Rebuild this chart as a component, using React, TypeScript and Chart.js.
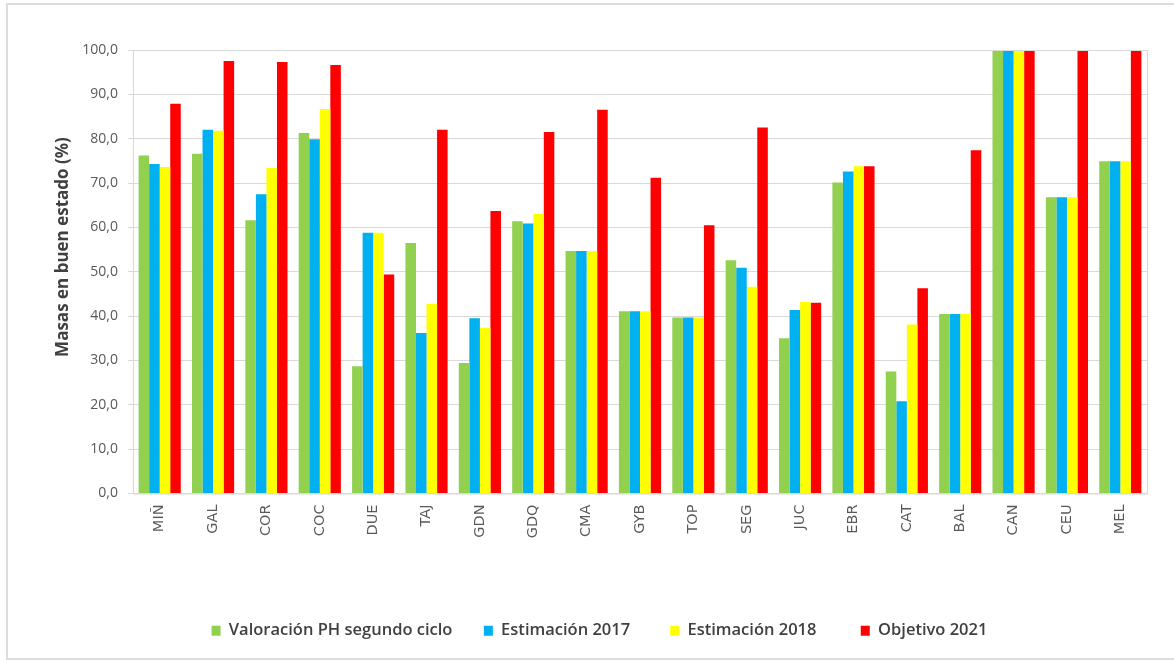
import React, { useEffect, useRef } from "react";
import { Chart, registerables } from "chart.js";

Chart.register(...registerables);

const categories = ["MIÑ", "GAL", "COR", "COC", "DUE", "TAJ", "GDN", "GDQ", "CMA", "GYB", "TOP", "SEG", "JUC", "EBR", "CAT", "BAL", "CAN", "CEU", "MEL"];
const valoracionPH = [76.2, 76.6, 61.6, 81.3, 28.7, 56.5, 29.4, 61.4, 54.7, 41.1, 39.7, 52.6, 35.0, 70.1, 27.5, 40.5, 100, 66.8, 74.9];
const estimacion2017 = [74.3, 82.0, 67.5, 79.9, 58.8, 36.2, 39.5, 60.9, 54.7, 41.1, 39.7, 50.9, 41.4, 72.6, 20.8, 40.5, 100, 66.8, 74.9];
const estimacion2018 = [73.6, 81.8, 73.4, 86.7, 58.8, 42.8, 37.4, 63.0, 54.7, 41.1, 39.7, 46.6, 43.2, 73.8, 38.1, 40.5, 100, 66.8, 74.9];
const objetivo2021 = [87.9, 97.5, 97.3, 96.6, 49.4, 82.0, 63.7, 81.5, 86.5, 71.2, 60.5, 82.5, 43.0, 73.8, 46.3, 77.4, 100, 100, 100];
const seriesLabels = ["Valoración PH segundo ciclo", "Estimación 2017", "Estimación 2018", "Objetivo 2021"];
const seriesColors = ["#92D050", "#00B0F0", "#FFFF00", "#FF0000"];
const legendGaps = ["     ", "       ", "        ", ""];
const yTitle = "Masas en buen estado (%)";

const plotFrame = {
  id: "plotFrame",
  afterLayout(chart: any) {
    if (chart.legend) {
      chart.legend.left += 22;
      chart.legend.right += 22;
    }
  },
  afterDatasetsDraw(chart: any) {
    const { ctx, chartArea } = chart;
    ctx.save();
    ctx.strokeStyle = "#D9D9D9";
    ctx.lineWidth = 1;
    ctx.strokeRect(chartArea.left + 0.5, chartArea.top + 0.5, chartArea.right - chartArea.left, chartArea.bottom - chartArea.top);
    // y-axis title
    ctx.translate(63, 247);
    ctx.rotate(-Math.PI / 2);
    ctx.fillStyle = "#404040";
    ctx.font = "bold 17px 'Open Sans'";
    ctx.textAlign = "center";
    ctx.textBaseline = "middle";
    ctx.fillText(yTitle, 0, 0);
    ctx.restore();
  },
};

export default function App() {
  const ref = useRef<HTMLCanvasElement>(null);
  useEffect(() => {
    const all = [valoracionPH, estimacion2017, estimacion2018, objetivo2021];
    const chart = new Chart(ref.current!, {
      type: "bar",
      data: {
        labels: categories,
        datasets: all.map((d, i) => ({
          label: seriesLabels[i],
          data: d,
          backgroundColor: seriesColors[i],
          borderWidth: 0,
          categoryPercentage: 0.79,
          barPercentage: 1.0,
        })),
      },
      options: {
        responsive: false,
        animation: false,
        maintainAspectRatio: false,
        layout: { padding: { left: 8, right: 27, top: 50, bottom: 12 } },
        plugins: {
          legend: {
            position: "bottom",
            labels: {
              boxWidth: 9,
              boxHeight: 10,
              padding: 10,
              color: "#404040",
              font: { family: "Open Sans", size: 16.5, weight: "600" },
              generateLabels: (c: any) =>
                c.data.datasets.map((ds: any, i: number) => ({
                  text: ds.label + legendGaps[i],
                  fillStyle: ds.backgroundColor,
                  strokeStyle: ds.backgroundColor,
                  lineWidth: 0,
                  hidden: false,
                  datasetIndex: i,
                  fontColor: "#404040",
                })),
            },
          },
          tooltip: { enabled: false },
        },
        scales: {
          x: {
            grid: { display: false, drawTicks: false },
            border: { display: false },
            ticks: {
              minRotation: 90,
              maxRotation: 90,
              padding: 11,
              color: "#595959",
              font: { family: "DejaVu Sans", size: 14.5 },
            },
            afterFit: (s: any) => {
              s.height = 119;
            },
          },
          y: {
            min: 0,
            max: 100,
            ticks: {
              stepSize: 10,
              padding: 10,
              color: "#595959",
              font: { family: "Open Sans", size: 14 },
              callback: (v: any) => Number(v).toFixed(1).replace(".", ","),
            },
            grid: { color: "#D9D9D9", tickLength: 5 },
            border: { display: false },
            title: { display: false },
            afterFit: (s: any) => {
              s.width = 125;
            },
          },
        },
      },
      plugins: [plotFrame],
    });
    return () => chart.destroy();
  }, []);
  return (
    <div style={{ position: "fixed", left: 0, top: 0, width: 1174, height: 661, background: "#fff" }}>
      <div
        style={{
          position: "absolute",
          left: 6,
          top: 3,
          width: 1174 - 6,
          height: 657,
          borderTop: "2px solid #DCDCDC",
          borderLeft: "2px solid #DCDCDC",
          borderBottom: "2px solid #DCDCDC",
          boxSizing: "border-box",
        }}
      />
      <canvas ref={ref} width={1174} height={661} style={{ position: "absolute", left: 0, top: 0 }} />
    </div>
  );
}
